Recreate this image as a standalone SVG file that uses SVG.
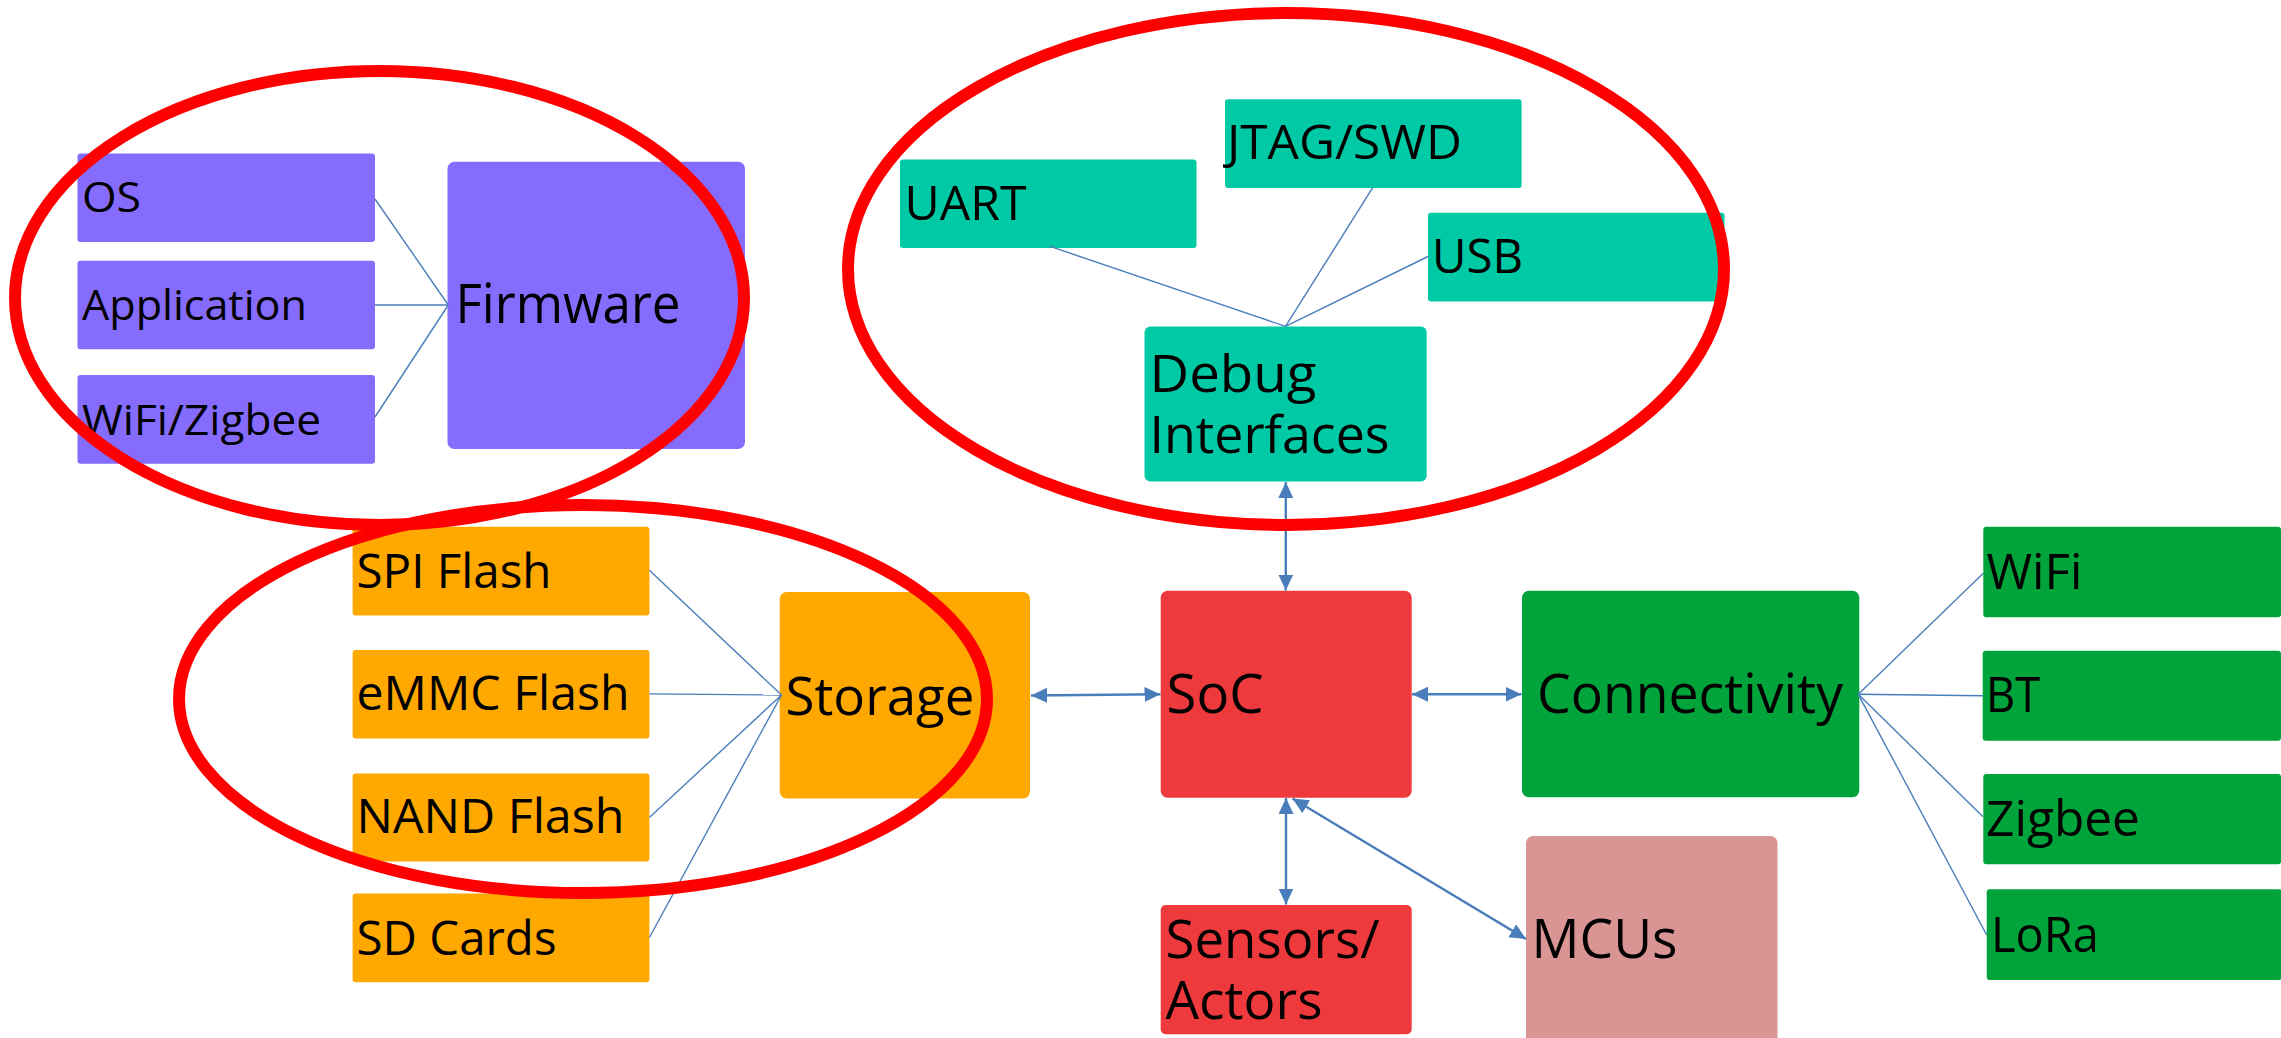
<svg xmlns="http://www.w3.org/2000/svg" width="2281" height="1038" viewBox="0 0 2281 1038">
<style>
  text { font-family: "Open Sans", "Noto Sans", "Liberation Sans", sans-serif; fill: #000; }
  .s42 { font-size: 42px; }
  .s47 { font-size: 47px; }
  .s48 { font-size: 48px; }
  .s50 { font-size: 50px; }
  .s51 { font-size: 51px; }
  .s53 { font-size: 53px; }
  .s54 { font-size: 54px; }
  .purple { fill: #866CFC; }
  .teal { fill: #00C9A6; }
  .orange { fill: #FFA800; }
  .red { fill: #EE3A3D; }
  .green { fill: #00A43A; }
  .pink { fill: #D99594; }
  .fan { stroke: #4A7EBB; stroke-width: 1.4; fill: none; }
  .arr { stroke: #4A7EBB; stroke-width: 2.4; fill: none; marker-start: url(#ah); marker-end: url(#ah); }
  .ring { fill: none; stroke: #FF0000; stroke-width: 12; }
</style>
<defs>
  <marker id="ah" markerUnits="userSpaceOnUse" markerWidth="17" markerHeight="16" refX="16" refY="7.5" orient="auto-start-reverse">
    <path d="M0,0 L16,7.5 L0,15 z" fill="#4A7EBB"/>
  </marker>
</defs>
<rect width="2281" height="1038" fill="#fff"/>

<!-- Firmware cluster -->
<g id="os"><rect class="purple" x="77.5" y="153.5" width="297.5" height="88.5" rx="3"/><text class="s42" x="82" y="212.3" textLength="59" lengthAdjust="spacingAndGlyphs">OS</text></g>
<g id="application"><rect class="purple" x="77.5" y="260.7" width="297.5" height="88.6" rx="3"/><text class="s42" x="82" y="320" textLength="225" lengthAdjust="spacingAndGlyphs">Application</text></g>
<g id="wifizigbee"><rect class="purple" x="77.5" y="375" width="297.5" height="88.7" rx="3"/><text class="s42" x="82" y="435" textLength="239" lengthAdjust="spacingAndGlyphs">WiFi/Zigbee</text></g>
<g id="firmware"><rect class="purple" x="447.5" y="161.7" width="297.5" height="287.3" rx="7"/><text class="s54" x="455.5" y="323.3" textLength="225" lengthAdjust="spacingAndGlyphs">Firmware</text></g>

<!-- Debug cluster -->
<g id="uart"><rect class="teal" x="900" y="159.4" width="296.5" height="88.6" rx="3"/><text class="s48" x="904.5" y="220.4" textLength="122" lengthAdjust="spacingAndGlyphs">UART</text></g>
<g id="jtag"><rect class="teal" x="1225" y="99.2" width="296.6" height="88.8" rx="3"/><text class="s48" x="1227" y="159.4" textLength="235" lengthAdjust="spacingAndGlyphs">JTAG/SWD</text></g>
<g id="usb"><rect class="teal" x="1428" y="212.8" width="296.5" height="88.8" rx="3"/><text class="s48" x="1432" y="273" textLength="91" lengthAdjust="spacingAndGlyphs">USB</text></g>
<g id="debug"><rect class="teal" x="1144.5" y="326.4" width="282.2" height="155" rx="6"/><text class="s51"><tspan x="1149.5" y="391.5" textLength="167" lengthAdjust="spacingAndGlyphs">Debug</tspan><tspan x="1149.5" y="452.8" textLength="240" lengthAdjust="spacingAndGlyphs">Interfaces</tspan></text></g>

<!-- Storage cluster -->
<g id="spi"><rect class="orange" x="352.6" y="526.8" width="296.8" height="88.8" rx="3"/><text class="s47" x="356.5" y="587.5" textLength="195" lengthAdjust="spacingAndGlyphs">SPI Flash</text></g>
<g id="emmc"><rect class="orange" x="352.6" y="650" width="296.8" height="88.5" rx="3"/><text class="s47" x="356.5" y="710" textLength="273" lengthAdjust="spacingAndGlyphs">eMMC Flash</text></g>
<g id="nand"><rect class="orange" x="352.6" y="773.5" width="296.8" height="87.9" rx="3"/><text class="s47" x="356.5" y="832.9" textLength="268" lengthAdjust="spacingAndGlyphs">NAND Flash</text></g>
<g id="sd"><rect class="orange" x="352.6" y="893.6" width="296.8" height="88.6" rx="3"/><text class="s47" x="356.5" y="954.7" textLength="200" lengthAdjust="spacingAndGlyphs">SD Cards</text></g>
<g id="storage"><rect class="orange" x="779.7" y="592" width="250.3" height="206.6" rx="7"/><text class="s53" x="785.5" y="714.5" textLength="189" lengthAdjust="spacingAndGlyphs">Storage</text></g>

<!-- Center -->
<g id="soc"><rect class="red" x="1160.7" y="590.7" width="251" height="207" rx="7"/><text class="s54" x="1166.5" y="713.3" textLength="97" lengthAdjust="spacingAndGlyphs">SoC</text></g>
<g id="sensors"><rect class="red" x="1160.7" y="905" width="251" height="129.3" rx="5"/><text class="s53"><tspan x="1165.5" y="957.7" textLength="214" lengthAdjust="spacingAndGlyphs">Sensors/</tspan><tspan x="1165.5" y="1019.3" textLength="157" lengthAdjust="spacingAndGlyphs">Actors</tspan></text></g>
<g id="mcus"><rect class="pink" x="1526" y="836" width="251.5" height="215" rx="7"/><text class="s54" x="1531.5" y="958.3" textLength="146" lengthAdjust="spacingAndGlyphs">MCUs</text></g>

<!-- Connectivity cluster -->
<g id="connectivity"><rect class="green" x="1522" y="590.7" width="337.3" height="206.6" rx="7"/><text class="s54" x="1537" y="712.7" textLength="306" lengthAdjust="spacingAndGlyphs">Connectivity</text></g>
<g id="wifi"><rect class="green" x="1983.3" y="526.7" width="297.7" height="90.6" rx="3"/><text class="s50" x="1986.5" y="589" textLength="96" lengthAdjust="spacingAndGlyphs">WiFi</text></g>
<g id="bt"><rect class="green" x="1982.7" y="650.7" width="298.3" height="90" rx="3"/><text class="s50" x="1986" y="711.7" textLength="54" lengthAdjust="spacingAndGlyphs">BT</text></g>
<g id="zigbee"><rect class="green" x="1983.3" y="774" width="297.7" height="90.3" rx="3"/><text class="s50" x="1986" y="836" textLength="154" lengthAdjust="spacingAndGlyphs">Zigbee</text></g>
<g id="lora"><rect class="green" x="1986.7" y="889.3" width="295" height="90.7" rx="3"/><text class="s50" x="1991" y="951.7" textLength="108" lengthAdjust="spacingAndGlyphs">LoRa</text></g>

<!-- Connectors -->
<g id="connectors">
  <line class="fan" x1="375" y1="199" x2="448.3" y2="305"/>
  <line class="fan" x1="375" y1="305" x2="448.3" y2="305"/>
  <line class="fan" x1="375" y1="417" x2="448.3" y2="305"/>

  <line class="fan" x1="1049.5" y1="246.2" x2="1285.5" y2="326.4"/>
  <line class="fan" x1="1372.7" y1="187.7" x2="1285.5" y2="326.4"/>
  <line class="fan" x1="1428" y1="256.5" x2="1285.5" y2="326.4"/>

  <line class="fan" x1="649.4" y1="570.3" x2="781.5" y2="695"/>
  <line class="fan" x1="649.4" y1="693.9" x2="781.5" y2="695"/>
  <line class="fan" x1="649.4" y1="817.4" x2="781.5" y2="695"/>
  <line class="fan" x1="649.4" y1="937.5" x2="781.5" y2="695"/>

  <line class="fan" x1="1858.3" y1="694.3" x2="1983.3" y2="573.3"/>
  <line class="fan" x1="1858.3" y1="694.3" x2="1983" y2="695.7"/>
  <line class="fan" x1="1858.3" y1="694.3" x2="1983" y2="816.7"/>
  <line class="fan" x1="1858.3" y1="694.3" x2="1986.7" y2="935"/>

  <line class="arr" x1="1285.8" y1="482" x2="1285.8" y2="590.5"/>
  <line class="arr" x1="1031" y1="695.5" x2="1160.5" y2="694.3"/>
  <line class="arr" x1="1412" y1="694.3" x2="1521.5" y2="694.3"/>
  <line class="arr" x1="1286" y1="798" x2="1286" y2="904.5"/>
  <line class="arr" x1="1292.5" y1="798.5" x2="1526" y2="939"/>
</g>

<!-- Highlight ellipses -->
<ellipse class="ring" cx="379.5" cy="298" rx="364.5" ry="227"/>
<ellipse class="ring" cx="1286" cy="269" rx="438" ry="256"/>
<ellipse class="ring" cx="583" cy="699" rx="404" ry="194"/>
</svg>
